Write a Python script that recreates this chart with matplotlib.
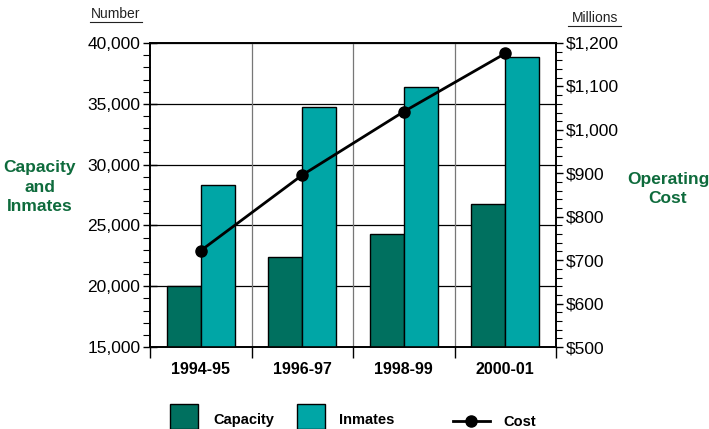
import numpy as np
import matplotlib.pyplot as plt
from matplotlib.ticker import MultipleLocator, FuncFormatter

plt.rcParams['font.family'] = ['Liberation Sans', 'DejaVu Sans']

# data
years = ['1994-95', '1996-97', '1998-99', '2000-01']
capacity = [20000, 22400, 24300, 26800]
inmates = [28300, 34750, 36400, 38850]
cost = [722, 896, 1042, 1176]

dark = '#00705f'
light = '#00a6a6'
green = '#0e6b3c'

fig = plt.figure(figsize=(7.09, 4.29), dpi=100)
ax = fig.add_axes([0.2116, 0.1911, 0.5726, 0.7086])
x = np.arange(len(years))
w = 0.335

ax.bar(x - w / 2, capacity, w, color=dark, edgecolor='black', linewidth=1, zorder=3)
ax.bar(x + w / 2, inmates, w, color=light, edgecolor='black', linewidth=1, zorder=3)
ax.set_xlim(-0.5, 3.5)
ax.set_ylim(15000, 40000)

# grid
for v in range(20000, 40001, 5000):
    ax.axhline(v, color='black', lw=0.9, zorder=1)
for b in [0.5, 1.5, 2.5]:
    ax.axvline(b, color='#777777', lw=0.9, zorder=1)

ax.yaxis.set_major_locator(MultipleLocator(5000))
ax.yaxis.set_minor_locator(MultipleLocator(1000))
ax.yaxis.set_major_formatter(FuncFormatter(lambda v, p: f'{int(v):,}'))
ax.tick_params(axis='y', which='major', direction='inout', length=10, width=1, labelsize=12.5, pad=2)
ax.tick_params(axis='y', which='minor', direction='out', length=5, width=0.8)

ax.set_xticks([-0.5, 0.5, 1.5, 2.5, 3.5], minor=False)
ax.set_xticklabels([])
ax.set_xticks(x, minor=True)
ax.set_xticklabels(years, minor=True, fontweight='bold', fontsize=11.5)
ax.tick_params(axis='x', which='major', direction='out', length=8, width=1)
ax.tick_params(axis='x', which='minor', length=0, pad=11)

for s in ax.spines.values():
    s.set_linewidth(1.2)

ax2 = ax.twinx()
ax2.set_ylim(500, 1200)
ax2.plot(x, cost, color='black', lw=2, marker='o', markersize=8, zorder=5)
ax2.yaxis.set_major_locator(MultipleLocator(100))
ax2.yaxis.set_minor_locator(MultipleLocator(20))
ax2.yaxis.set_major_formatter(FuncFormatter(lambda v, p: f'${int(v):,}'))
ax2.tick_params(axis='y', which='major', direction='out', length=5, width=1, labelsize=12.5, pad=2)
ax2.tick_params(axis='y', which='minor', direction='out', length=4, width=0.8)
for s in ax2.spines.values():
    s.set_linewidth(1.2)

# axis captions
fig.text(116 / 709, 1 - 14 / 429, 'Number', ha='center', va='center', fontsize=10, color='#222222')
fig.text(595 / 709, 1 - 18 / 429, 'Millions', ha='center', va='center', fontsize=10, color='#222222')
fig.add_artist(plt.Line2D([90 / 709, 142 / 709], [1 - 22 / 429] * 2, color='#222222', lw=0.8))
fig.add_artist(plt.Line2D([568 / 709, 621 / 709], [1 - 26 / 429] * 2, color='#222222', lw=0.8))

fig.text(40 / 709, 1 - 187 / 429, 'Capacity\nand\nInmates', ha='center', va='center',
         fontsize=12.5, fontweight='bold', color=green, linespacing=1.35)
fig.text(668 / 709, 1 - 189 / 429, 'Operating\nCost', ha='center', va='center',
         fontsize=12.5, fontweight='bold', color=green, linespacing=1.35)

# legend drawn by hand
fig.add_artist(plt.Rectangle((170 / 709, 0), 28 / 709, 25 / 429, facecolor=dark,
                             edgecolor='black', lw=1, transform=fig.transFigure))
fig.add_artist(plt.Rectangle((297 / 709, 0), 28 / 709, 25 / 429, facecolor=light,
                             edgecolor='black', lw=1, transform=fig.transFigure))
fig.text(213 / 709, 1 - 420 / 429, 'Capacity', fontsize=10.5, fontweight='bold', va='center')
fig.text(339 / 709, 1 - 420 / 429, 'Inmates', fontsize=10.5, fontweight='bold', va='center')
fig.add_artist(plt.Line2D([453 / 709, 490 / 709], [1 - 421 / 429] * 2, color='black', lw=2))
fig.add_artist(plt.Line2D([471 / 709], [1 - 421 / 429], color='black', marker='o', markersize=8))
fig.text(503 / 709, 1 - 422 / 429, 'Cost', fontsize=10.5, fontweight='bold', va='center')

fig.savefig('out.png', dpi=100)
